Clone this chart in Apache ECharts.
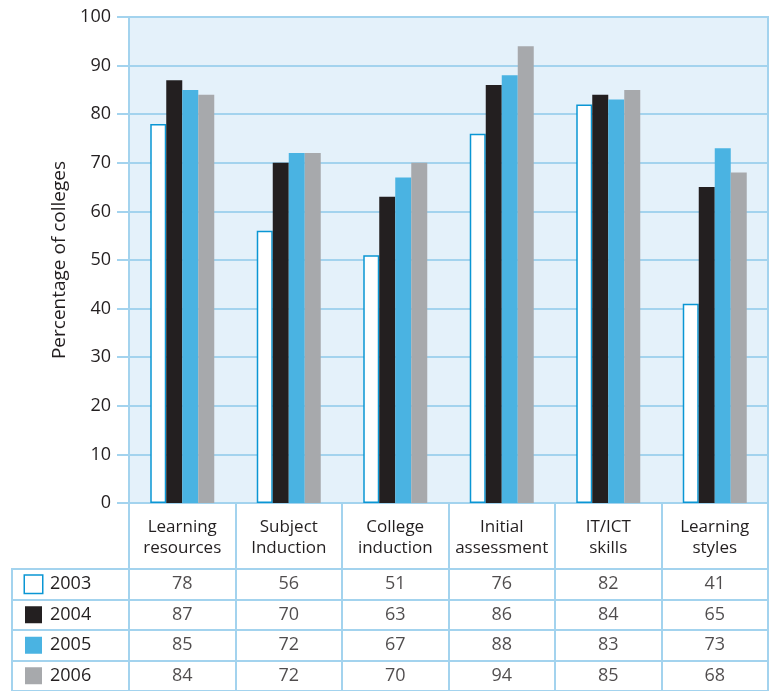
<!DOCTYPE html>
<html>
<head>
<meta charset="utf-8">
<script src="https://cdn.jsdelivr.net/npm/echarts@6/dist/echarts.min.js"></script>
<style>
  html, body { margin: 0; padding: 0; background: #fff; }
  #main { width: 772px; height: 691px; }
</style>
</head>
<body>
<div id="main"></div>
<script>
const categories = ['Learning\nresources', 'Subject\nInduction', 'College\ninduction', 'Initial\nassessment', 'IT/ICT\nskills', 'Learning\nstyles'];
const years = ['2003', '2004', '2005', '2006'];
const values2003 = [78, 56, 51, 76, 82, 41];
const values2004 = [87, 70, 63, 86, 84, 65];
const values2005 = [85, 72, 67, 88, 83, 73];
const values2006 = [84, 72, 70, 94, 85, 68];
const yTicks = [0, 10, 20, 30, 40, 50, 60, 70, 80, 90, 100];

const allValues = [values2003, values2004, values2005, values2006];
const lineBlue = '#a3d3ee';
const textColor = '#231f20';
const fontFamily = 'Open Sans';

// bar fill per year; 2003 is white with a blue outline
const barStyles = [
  { color: '#ffffff', borderColor: '#0a96d4', borderWidth: 1.5 },
  { color: '#231f20' },
  { color: '#4ab3e2' },
  { color: '#a7a9ac' }
];

const chart = echarts.init(document.getElementById('main'));

// table cells: one label per [category, year]
const tableData = [];
allValues.forEach((vals, yi) => {
  vals.forEach((v, ci) => tableData.push([ci, yi, v]));
});

const rich = {};
barStyles.forEach((s, i) => {
  rich['s' + i] = {
    width: 17, height: 17,
    backgroundColor: s.color,
    borderColor: s.borderColor || s.color,
    borderWidth: s.borderWidth || 0
  };
});
rich.t = { fontSize: 18, color: textColor, fontFamily: fontFamily, padding: [0, 0, 0, 8] };

const option = {
  animation: false,
  textStyle: { fontFamily: fontFamily },
  grid: [
    { left: 129, right: 4, top: 17, bottom: 188, show: true, backgroundColor: '#e4f1fa', borderColor: lineBlue, borderWidth: 2 },
    { left: 129, right: 4, top: 569, height: 124, show: true, borderColor: lineBlue, borderWidth: 2 },
    { left: 12, width: 117, top: 569, height: 124, show: true, borderColor: lineBlue, borderWidth: 2 }
  ],
  xAxis: [
    {
      type: 'category', gridIndex: 0, data: categories,
      axisLine: { lineStyle: { color: lineBlue, width: 2 } },
      axisTick: { show: true, interval: 0, length: 66, lineStyle: { color: lineBlue, width: 2 } },
      axisLabel: { interval: 0, color: textColor, fontSize: 17, lineHeight: 21, margin: 14 }
    },
    {
      type: 'category', gridIndex: 1, data: categories,
      axisLine: { show: false }, axisTick: { show: false }, axisLabel: { show: false },
      splitLine: { show: true, interval: 0, lineStyle: { color: lineBlue, width: 2 } }
    },
    { type: 'value', gridIndex: 2, show: false }
  ],
  yAxis: [
    {
      type: 'value', gridIndex: 0, min: yTicks[0], max: yTicks[yTicks.length - 1], interval: 10,
      name: 'Percentage of colleges', nameLocation: 'middle', nameGap: 58,
      nameTextStyle: { color: textColor, fontSize: 19 },
      axisLine: { show: true, lineStyle: { color: lineBlue, width: 2 } },
      axisTick: { show: true, length: 12, lineStyle: { color: lineBlue, width: 2 } },
      axisLabel: { color: textColor, fontSize: 18, margin: 18 },
      splitLine: { lineStyle: { color: lineBlue, width: 2 } }
    },
    {
      type: 'category', gridIndex: 1, data: years, inverse: true,
      axisLine: { show: false }, axisTick: { show: false }, axisLabel: { show: false },
      splitLine: { show: true, interval: 0, lineStyle: { color: lineBlue, width: 2 } }
    },
    {
      type: 'category', gridIndex: 2, data: years, inverse: true,
      axisLine: { show: false }, axisTick: { show: false },
      axisLabel: {
        inside: true, margin: 13, align: 'left',
        formatter: (v, i) => '{s' + i + '|}{t|' + v + '}',
        rich: rich
      },
      splitLine: { show: true, interval: 0, lineStyle: { color: lineBlue, width: 2 } }
    }
  ],
  series: years.map((y, i) => ({
    name: y, type: 'bar', xAxisIndex: 0, yAxisIndex: 0,
    data: allValues[i], barWidth: 16, barGap: '0%',
    itemStyle: barStyles[i]
  })).concat([{
    type: 'scatter', xAxisIndex: 1, yAxisIndex: 1,
    data: tableData, symbolSize: 1,
    itemStyle: { color: 'transparent' },
    label: {
      show: true, position: 'inside', color: textColor, fontSize: 18,
      formatter: p => p.value[2]
    }
  }])
};

chart.setOption(option);
</script>
</body>
</html>
